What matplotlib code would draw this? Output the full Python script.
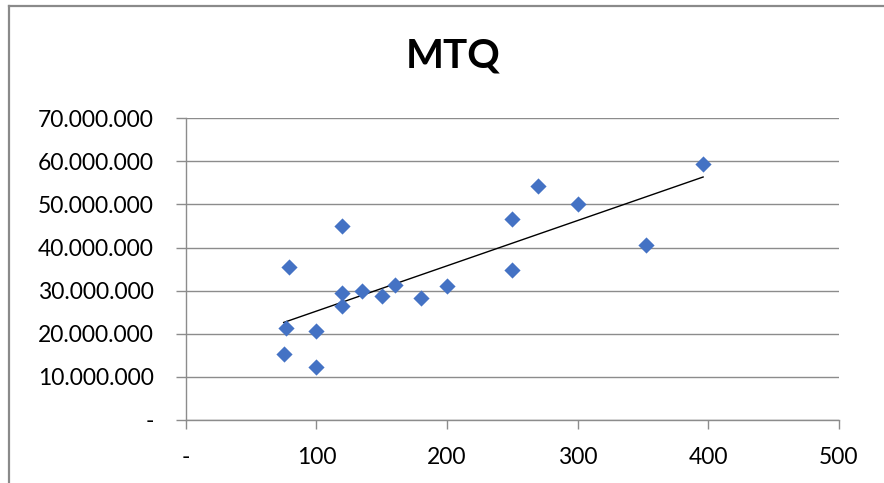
import numpy as np
import matplotlib
matplotlib.use("Agg")
import matplotlib.pyplot as plt
from matplotlib.lines import Line2D
from matplotlib.ticker import FuncFormatter

# MTQ scatter: x = units, y = value
mtq_x = [75, 77, 79, 100, 100, 120, 120, 120, 135, 150, 160, 180, 200, 250, 250, 270, 300, 352, 396]
mtq_y = [15.3e6, 21.4e6, 35.4e6, 20.6e6, 12.4e6, 45.0e6, 29.4e6, 26.5e6, 29.9e6, 28.8e6,
         31.3e6, 28.4e6, 31.1e6, 34.7e6, 46.6e6, 54.4e6, 50.1e6, 40.5e6, 59.4e6]
x_ticks = [0, 100, 200, 300, 400, 500]
y_ticks = [0, 10e6, 20e6, 30e6, 40e6, 50e6, 60e6, 70e6]
title = "MTQ"

plt.rcParams['font.family'] = ['Lato', 'DejaVu Sans']

fig = plt.figure(figsize=(8.84, 4.83), dpi=100)
ax = fig.add_axes([185.7 / 884, 1 - 420 / 483, (839 - 185.7) / 884, (420 - 118.3) / 483])

grid_c = '#8c8c8c'
ax.scatter(mtq_x, mtq_y, marker='D', s=68, color='#4472C4', zorder=3, linewidths=0)

# linear trendline
coef = np.polyfit(mtq_x, mtq_y, 1)
tx = np.array([min(mtq_x), max(mtq_x)])
ax.plot(tx, np.polyval(coef, tx), color='black', lw=1.0, zorder=2)

ax.set_xlim(0, 500)
ax.set_ylim(0, 70e6)
ax.set_xticks(x_ticks)
ax.set_yticks(y_ticks)

def fmt_y(v, pos):
    if v == 0:
        return '-'
    return f"{v:,.0f}".replace(',', '.')

def fmt_x(v, pos):
    if v == 0:
        return '-'
    return f"{v:.0f}"

ax.yaxis.set_major_formatter(FuncFormatter(fmt_y))
ax.xaxis.set_major_formatter(FuncFormatter(fmt_x))

ax.grid(axis='y', color=grid_c, lw=1.0)
ax.set_axisbelow(True)
for s in ['top', 'right']:
    ax.spines[s].set_visible(False)
for s in ['left', 'bottom']:
    ax.spines[s].set_color(grid_c)
    ax.spines[s].set_linewidth(1.0)

ax.tick_params(axis='y', length=7, width=1.0, color=grid_c, pad=16, labelsize=16.5)
ax.tick_params(axis='x', length=6.5, width=1.0, color=grid_c, pad=13, labelsize=16.5)

fig.text(453 / 884, 1 - 56 / 483, title, ha='center', va='center',
         fontsize=29, fontweight='bold')

# chart area border (left and top edges visible)
fig.add_artist(Line2D([9.3 / 884, 9.3 / 884], [0, 1 - 6.3 / 483], transform=fig.transFigure,
                      color='#8a8a8a', lw=1.6))
fig.add_artist(Line2D([9.3 / 884, 1], [1 - 6.3 / 483, 1 - 6.3 / 483], transform=fig.transFigure,
                      color='#8a8a8a', lw=1.6))

fig.savefig("out.png", dpi=100)
